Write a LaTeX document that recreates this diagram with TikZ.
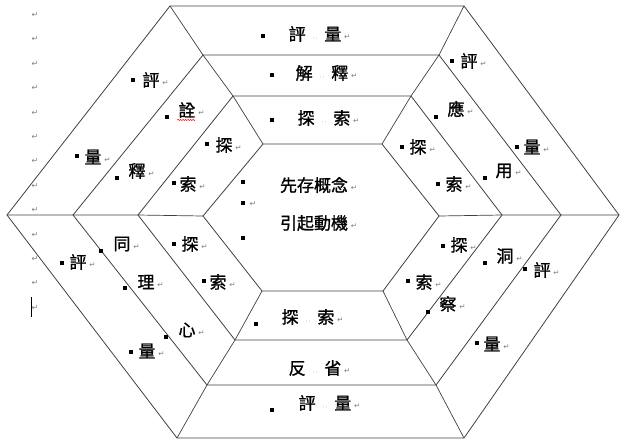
\documentclass[tikz,border=0pt]{standalone}
\usepackage{fontspec}
\newfontfamily\cjk[FakeBold=1.2]{Noto Sans CJK TC}
\newfontfamily\symf{DejaVu Sans}
\usetikzlibrary{decorations.pathmorphing}
\newcommand{\ret}{\rlap{\,\raisebox{0.1ex}{\symf\fontsize{7.5}{8}\selectfont\color{black!50}↵}}}
\newcommand{\gap}{\makebox[1.1em]{\symf\fontsize{6}{6}\selectfont\color{black!40}·\,·}}
\tikzset{
  ring/.style={draw=black!75, line width=0.8pt},
  spoke/.style={draw=black!75, line width=0.7pt},
  sq/.style={fill=black, inner sep=0pt, minimum size=3.5pt},
  word/.style={inner sep=0pt, font=\cjk\fontsize{17}{19}\selectfont},
  margin/.style={inner sep=0pt, font=\symf\fontsize{8}{9}\selectfont, text=black!50},
}

\begin{document}
\begin{tikzpicture}[x=1pt, y=-1pt]
  \useasboundingbox (0,0) rectangle (634,442);

  % hexagon corners, outer (a) to inner (d)
  \coordinate (aL) at (7,215);   \coordinate (aTL) at (170,6);
  \coordinate (aTR) at (464,6);  \coordinate (aR) at (619,215);
  \coordinate (aBR) at (464,438); \coordinate (aBL) at (177,438);
  \coordinate (bL) at (73,215);  \coordinate (bTL) at (203,55);
  \coordinate (bTR) at (439,55); \coordinate (bR) at (561,215);
  \coordinate (bBR) at (436,385); \coordinate (bBL) at (207,385);
  \coordinate (cL) at (138,215); \coordinate (cTL) at (233,96);
  \coordinate (cTR) at (411,96); \coordinate (cR) at (502,215);
  \coordinate (cBR) at (407,340); \coordinate (cBL) at (235,340);
  \coordinate (dL) at (203,216); \coordinate (dTL) at (263,144);
  \coordinate (dTR) at (382,144); \coordinate (dR) at (439,216);
  \coordinate (dBR) at (383,291); \coordinate (dBL) at (262,291);

  \foreach \h in {a,b,c,d}
    \draw[ring] (\h L) -- (\h TL) -- (\h TR) -- (\h R) -- (\h BR) -- (\h BL) -- cycle;
  \foreach \v in {L,TL,TR,R,BR,BL}
    \draw[spoke] (d\v) -- (c\v) -- (b\v) -- (a\v);

  % paragraph marks in the margin
  \foreach \k in {0,...,12}
    \node[margin] (mg\k) at (35,15+24.4*\k) {↵};
  \draw[line width=1pt] (31,297) -- (31,317);

  % top bands
  \node[sq] (tq1) at (263,36) {};  \node[word] (t1) at (315,34) {評\gap{}量\ret};
  \node[sq] (tq2) at (272,75) {};  \node[word] (t2) at (322,73) {解\gap{}釋\ret};
  \node[sq] (tq3) at (272,120) {}; \node[word] (t3) at (324,118) {探\gap{}索\ret};

  % centre
  \node[sq] (cq1) at (243,182) {};
  \node[sq] (cq2) at (243,203) {};
  \node[margin] (cm2) at (253,204) {↵};
  \node[sq] (cq3) at (243,238) {};
  \node[word] (c1) at (314,185) {先存概念\ret};
  \node[word] (c2) at (314,223) {引起動機\ret};

  % bottom bands
  \node[sq] (bq1) at (256,324) {}; \node[word] (b1) at (308,317) {探\gap{}索\ret};
  \node[word] (b2) at (315,368) {反\gap{}省\ret};
  \node[sq] (bq3) at (272,410) {}; \node[word] (b3) at (325,403) {評\gap{}量\ret};

  % upper left
  \node[sq] (ulq1) at (133,80) {};  \node[word] (ul1) at (151,80) {評\ret};
  \node[sq] (ulq2) at (167,117) {}; \node[word] (ul2) at (187,110) {詮\ret};
  \draw[red, line width=0.5pt, decorate,
        decoration={snake, amplitude=0.6pt, segment length=2.5pt}]
    (ul2.south west) ++(-1,2) -- ++(18,0);
  \node[sq] (ulq3) at (207,144) {}; \node[word] (ul3) at (224,145) {探\ret};
  \node[sq] (ulq4) at (77,156) {};  \node[word] (ul4) at (93,157) {量\ret};
  \node[sq] (ulq5) at (117,178) {}; \node[word] (ul5) at (137,171) {釋\ret};
  \node[sq] (ulq6) at (174,183) {}; \node[word] (ul6) at (188,184) {索\ret};

  % lower left
  \node[sq] (llq1) at (101,251) {}; \node[word] (ll1) at (122,244) {同\ret};
  \node[sq] (llq2) at (174,244) {}; \node[word] (ll2) at (190,244) {探\ret};
  \node[sq] (llq3) at (62,263) {};  \node[word] (ll3) at (78,262) {評\ret};
  \node[sq] (llq4) at (125,288) {}; \node[word] (ll4) at (146,282) {理\ret};
  \node[sq] (llq5) at (204,281) {}; \node[word] (ll5) at (218,282) {索\ret};
  \node[sq] (llq6) at (166,337) {}; \node[word] (ll6) at (187,330) {心\ret};
  \node[sq] (llq7) at (131,352) {}; \node[word] (ll7) at (147,351) {量\ret};

  % upper right
  \node[sq] (urq1) at (452,61) {};  \node[word] (ur1) at (469,61) {評\ret};
  \node[sq] (urq2) at (436,117) {}; \node[word] (ur2) at (456,109) {應\ret};
  \node[sq] (urq3) at (402,147) {}; \node[word] (ur3) at (418,147) {探\ret};
  \node[sq] (urq4) at (517,147) {}; \node[word] (ur4) at (532,147) {量\ret};
  \node[sq] (urq5) at (485,178) {}; \node[word] (ur5) at (504,171) {用\ret};
  \node[sq] (urq6) at (438,184) {}; \node[word] (ur6) at (454,184) {索\ret};

  % lower right
  \node[sq] (lrq1) at (443,246) {}; \node[word] (lr1) at (459,245) {探\ret};
  \node[sq] (lrq2) at (485,263) {}; \node[word] (lr2) at (505,256) {洞\ret};
  \node[sq] (lrq3) at (525,269) {}; \node[word] (lr3) at (542,270) {評\ret};
  \node[sq] (lrq4) at (408,281) {}; \node[word] (lr4) at (424,282) {索\ret};
  \node[sq] (lrq5) at (428,312) {}; \node[word] (lr5) at (448,304) {察\ret};
  \node[sq] (lrq6) at (477,343) {}; \node[word] (lr6) at (492,344) {量\ret};

\end{tikzpicture}
\end{document}
